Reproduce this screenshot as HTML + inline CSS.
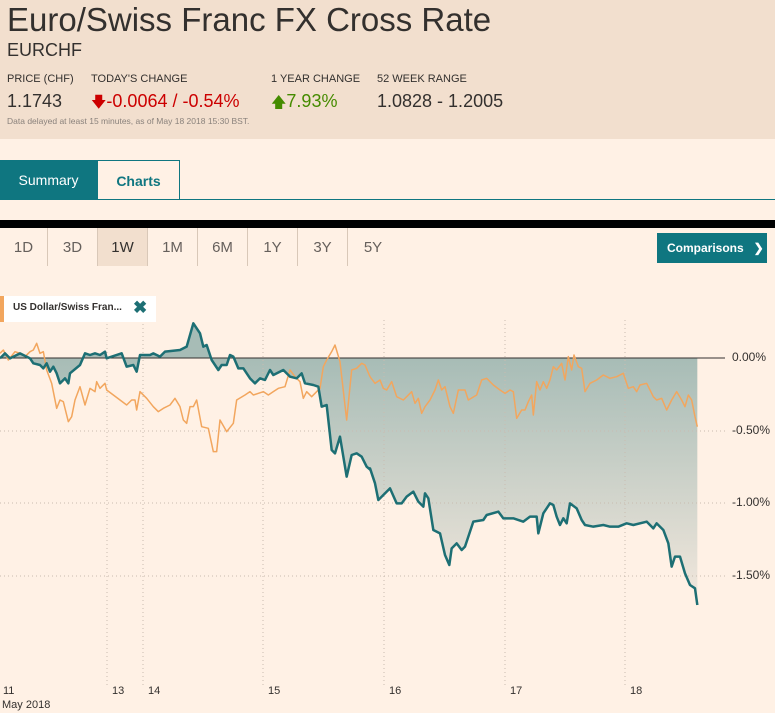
<!DOCTYPE html>
<html><head><meta charset="utf-8"><style>
*{margin:0;padding:0;box-sizing:border-box}
body{width:775px;height:713px;background:#fff1e5;font-family:"Liberation Sans",sans-serif;position:relative;overflow:hidden;color:#33302e}
.hdr{position:absolute;left:0;top:0;width:775px;height:139px;background:#f2dfce}
.a{position:absolute;white-space:nowrap}
.lab{font-size:11px;color:#33302e;top:73px}
.val{font-size:18px;top:91px;color:#33302e}
.tab{position:absolute;top:160px;height:40px;font-size:14px;line-height:40px;text-align:center}
.btn{position:absolute;top:228px;height:38px;width:50px;border-right:1px solid #d9c8b8;font-size:15px;line-height:40px;text-align:center;color:#66605c}
.yl{position:absolute;left:732px;font-size:12px;color:#33302e}
.xl{position:absolute;top:685px;font-size:11px;color:#33302e}
</style></head><body>
<div class="hdr"></div>
<div class="a" style="left:7px;top:1px;font-size:33px;color:#33302e">Euro/Swiss Franc FX Cross Rate</div>
<div class="a" style="left:7px;top:40px;font-size:18px;color:#33302e">EURCHF</div>
<div class="a lab" style="left:7px">PRICE (CHF)</div>
<div class="a lab" style="left:91px">TODAY'S CHANGE</div>
<div class="a lab" style="left:271px">1 YEAR CHANGE</div>
<div class="a lab" style="left:377px">52 WEEK RANGE</div>
<div class="a val" style="left:7px">1.1743</div>
<div class="a val" style="left:91px;color:#cc0000"><span style="font-size:15px">&#129095;</span>-0.0064 / -0.54%</div>
<div class="a val" style="left:271px;color:#458b00"><span style="font-size:15px">&#129093;</span>7.93%</div>
<div class="a val" style="left:377px">1.0828 - 1.2005</div>
<div class="a" style="left:7px;top:116px;font-size:8.5px;color:#8a827c">Data delayed at least 15 minutes, as of May 18 2018 15:30 BST.</div>

<div class="tab" style="left:0;width:97px;background:#0f7680;color:#fff">Summary</div>
<div class="tab" style="left:97px;width:83px;border:1px solid #0f7680;border-bottom:none;color:#0f7680;font-weight:bold">Charts</div>
<div class="a" style="left:0;top:199px;width:775px;height:1px;background:#0f7680"></div>
<div class="a" style="left:0;top:220px;width:775px;height:8px;background:#000"></div>

<div class="btn" style="left:0;width:48px">1D</div>
<div class="btn" style="left:48px">3D</div>
<div class="btn" style="left:98px;background:#f2dfce;color:#33302e">1W</div>
<div class="btn" style="left:148px">1M</div>
<div class="btn" style="left:198px">6M</div>
<div class="btn" style="left:248px">1Y</div>
<div class="btn" style="left:298px">3Y</div>
<div class="btn" style="left:348px;border:none">5Y</div>
<div class="a" style="left:657px;top:233px;width:110px;height:30px;background:#0f7680;color:#fff;font-size:12px;font-weight:bold;line-height:30px;padding-left:10px">Comparisons &nbsp;&nbsp;&#10095;</div>

<svg class="a" style="left:0;top:0" width="775" height="713">
<defs>
<linearGradient id="g" x1="0" y1="358" x2="0" y2="605" gradientUnits="userSpaceOnUse">
<stop offset="0" stop-color="#a7bcb6"/><stop offset="1" stop-color="#f3e8dd"/></linearGradient>
<clipPath id="c">
<polygon transform="translate(0,320) scale(0.33333)" points="0,115 0,115 15,100 30,115 60,100 90,115 100,130 120,135 130,145 140,130 150,155 160,140 170,160 180,190 195,175 205,190 210,160 240,135 255,100 270,105 285,100 300,105 315,95 320,115 365,100 380,140 400,135 410,155 420,105 450,105 460,100 480,110 495,95 540,90 560,80 580,10 600,40 610,80 620,75 635,120 655,150 665,135 680,135 690,105 700,110 715,145 730,145 750,175 765,190 780,175 795,180 810,150 820,165 850,150 870,170 890,175 905,160 915,190 940,195 955,200 965,260 980,255 995,390 1005,400 1020,350 1040,470 1055,405 1070,400 1085,410 1100,440 1112,450 1112,115"/>
<polygon transform="translate(370,320) scale(0.33333)" points="-3,115 -3,445 0,445 15,490 25,540 40,525 60,505 80,550 95,550 110,530 130,515 145,545 160,560 165,520 175,535 190,630 210,640 225,705 238,735 245,685 260,670 275,690 285,680 310,605 340,600 350,585 385,575 400,595 430,595 460,605 480,590 500,590 505,640 520,580 540,550 550,555 560,590 570,615 580,595 590,610 600,550 620,565 635,600 645,615 670,620 700,615 720,620 745,620 770,610 790,615 830,605 850,625 860,610 880,630 895,670 905,740 915,710 930,710 945,760 960,795 975,805 982,855 982,115"/>
</clipPath>
</defs>
<rect x="0" y="320" width="700" height="300" fill="url(#g)" clip-path="url(#c)"/>
<g stroke="#c9bcb0" stroke-width="1" stroke-dasharray="1,3">
<line x1="0" y1="431" x2="725" y2="431"/><line x1="0" y1="503" x2="725" y2="503"/><line x1="0" y1="576" x2="725" y2="576"/>
<line x1="107" y1="320" x2="107" y2="686"/><line x1="143" y1="320" x2="143" y2="686"/><line x1="263" y1="320" x2="263" y2="686"/><line x1="384" y1="320" x2="384" y2="686"/><line x1="505" y1="320" x2="505" y2="686"/><line x1="625" y1="320" x2="625" y2="686"/>
</g>
<line x1="0" y1="358" x2="725" y2="358" stroke="#33302e" stroke-width="1"/>
<g fill="none" stroke-linejoin="round">
<polyline vector-effect="non-scaling-stroke" stroke="#f2a65e" stroke-width="1.5" transform="translate(0,320) scale(0.33333)" points="0,100 10,90 25,120 45,95 60,100 75,110 90,95 100,90 110,70 120,100 130,95 140,150 155,190 170,265 180,240 190,245 205,305 215,290 225,240 240,200 255,255 270,205 285,215 290,185 300,205 315,190 320,210 380,255 395,240 405,240 410,270 420,215 440,235 460,260 475,275 490,265 510,255 525,235 540,260 550,300 560,310 570,260 580,260 590,240 605,320 625,325 640,395 650,395 660,300 680,335 700,310 710,240 735,225 750,215 760,225 790,215 805,225 820,215 835,205 855,200 870,150 885,170 900,185 910,235 920,215 935,230 960,205 970,140 980,120 995,95 1005,75 1020,125 1040,300 1055,150 1070,145 1085,130 1095,135 1110,170"/>
<polyline vector-effect="non-scaling-stroke" stroke="#f2a65e" stroke-width="1.5" transform="translate(370,320) scale(0.33333)" points="0,170 15,190 30,180 40,205 50,210 65,185 80,230 100,240 125,215 135,250 145,235 155,280 165,260 180,240 195,210 205,180 215,210 225,200 240,260 250,280 265,210 285,210 295,240 320,225 335,180 350,175 370,195 390,210 405,220 420,210 430,215 440,295 455,270 465,270 475,245 485,225 490,285 500,185 510,210 520,185 530,205 540,180 550,140 560,150 575,130 585,180 595,110 605,150 612,105 625,140 635,145 645,215 660,190 680,180 700,165 720,175 740,170 760,160 775,205 790,200 800,215 810,195 830,190 850,230 860,240 875,235 890,270 905,240 920,215 935,240 945,260 955,225 965,240 975,290 982,320"/>
<polyline vector-effect="non-scaling-stroke" stroke="#1d6f74" stroke-width="2.5" transform="translate(0,320) scale(0.33333)" points="0,115 15,100 30,115 60,100 90,115 100,130 120,135 130,145 140,130 150,155 160,140 170,160 180,190 195,175 205,190 210,160 240,135 255,100 270,105 285,100 300,105 315,95 320,115 365,100 380,140 400,135 410,155 420,105 450,105 460,100 480,110 495,95 540,90 560,80 580,10 600,40 610,80 620,75 635,120 655,150 665,135 680,135 690,105 700,110 715,145 730,145 750,175 765,190 780,175 795,180 810,150 820,165 850,150 870,170 890,175 905,160 915,190 940,195 955,200 965,260 980,255 995,390 1005,400 1020,350 1040,470 1055,405 1070,400 1085,410 1100,440 1112,450"/>
<polyline vector-effect="non-scaling-stroke" stroke="#1d6f74" stroke-width="2.5" transform="translate(370,320) scale(0.33333)" points="-3,445 0,445 15,490 25,540 40,525 60,505 80,550 95,550 110,530 130,515 145,545 160,560 165,520 175,535 190,630 210,640 225,705 238,735 245,685 260,670 275,690 285,680 310,605 340,600 350,585 385,575 400,595 430,595 460,605 480,590 500,590 505,640 520,580 540,550 550,555 560,590 570,615 580,595 590,610 600,550 620,565 635,600 645,615 670,620 700,615 720,620 745,620 770,610 790,615 830,605 850,625 860,610 880,630 895,670 905,740 915,710 930,710 945,760 960,795 975,805 982,855"/>
</g>
</svg>

<div class="a" style="left:0;top:296px;width:156px;height:26px;background:#fff;border-left:4px solid #f2a65e"></div>
<div class="a" style="left:13px;top:302px;font-size:10px;font-weight:bold;color:#33302e">US Dollar/Swiss Fran...</div>
<div class="a" style="left:133px;top:298px;font-size:17px;font-weight:bold;color:#1d6f74">&#10006;</div>

<div class="yl" style="top:350px">0.00%</div>
<div class="yl" style="top:423px">-0.50%</div>
<div class="yl" style="top:495px">-1.00%</div>
<div class="yl" style="top:568px">-1.50%</div>

<div class="xl" style="left:3px">11</div>
<div class="xl" style="left:112px">13</div>
<div class="xl" style="left:148px">14</div>
<div class="xl" style="left:268px">15</div>
<div class="xl" style="left:389px">16</div>
<div class="xl" style="left:510px">17</div>
<div class="xl" style="left:630px">18</div>
<div class="a" style="left:2px;top:699px;font-size:11px;color:#33302e">May 2018</div>
</body></html>
